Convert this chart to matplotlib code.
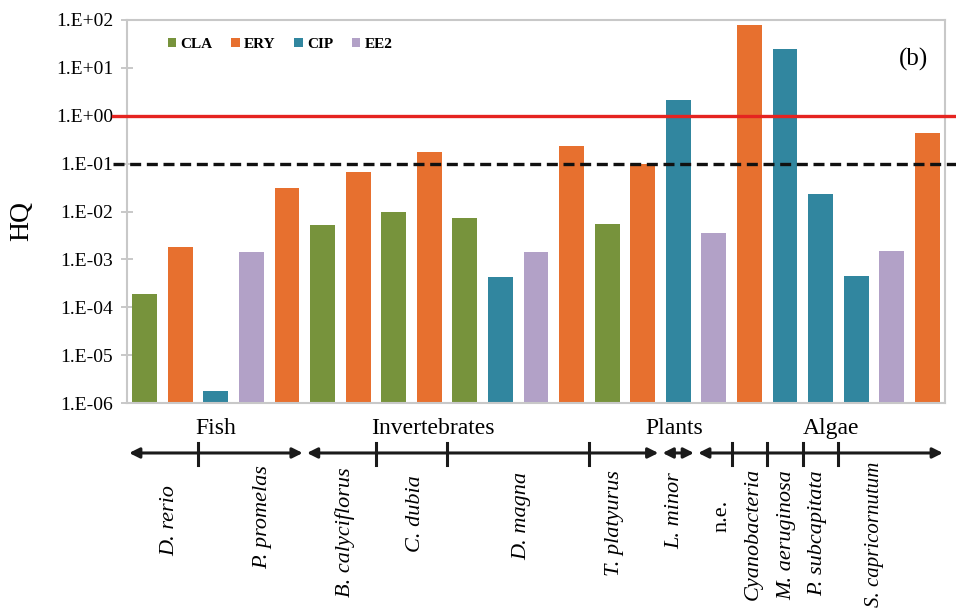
import numpy as np
import matplotlib
matplotlib.use('Agg')
import matplotlib.pyplot as plt
from matplotlib.patches import Patch
from matplotlib.ticker import FixedLocator, FuncFormatter, NullLocator
from matplotlib.transforms import blended_transform_factory

plt.rcParams['font.family'] = ['Liberation Serif', 'DejaVu Serif']

# HQ values, one bar per (species, compound)
bar_drug = ['CLA', 'ERY', 'CIP', 'EE2', 'ERY',
            'CLA', 'ERY', 'CLA', 'ERY', 'CLA', 'CIP', 'EE2', 'ERY',
            'CLA', 'ERY', 'CIP', 'EE2', 'ERY', 'CIP', 'CIP', 'CIP', 'EE2', 'ERY']
hq = [1.9e-4, 1.8e-3, 1.8e-6, 1.4e-3, 3.1e-2,
      5.2e-3, 6.6e-2, 1.0e-2, 1.75e-1, 7.3e-3, 4.3e-4, 1.4e-3, 2.3e-1,
      5.5e-3, 1.0e-1, 2.1e0, 3.5e-3, 78.0, 24.5, 2.3e-2, 4.6e-4, 1.5e-3, 4.3e-1]

legend_order = ['CLA', 'ERY', 'CIP', 'EE2']
drug_colors = {'CLA': '#77933C', 'ERY': '#E7702F', 'CIP': '#31869F', 'EE2': '#B2A1C7'}

species = ['D. rerio', 'P. promelas', 'B. calyciflorus', 'C. dubia', 'D. magna', 'T. platyurus',
           'L. minor', 'n.e.', 'Cyanobacteria', 'M. aeruginosa', 'P. subcapitata', 'S. capricornutum']
species_bars = [2, 3, 2, 2, 4, 2, 1, 1, 1, 1, 1, 3]
species_italic = [True] * 7 + [False] + [True] * 4

groups = ['Fish', 'Invertebrates', 'Plants', 'Algae']
group_species = [2, 4, 1, 5]

# layout (label placement as in the original figure)
species_label_x = [0.71, 3.32, 5.63, 7.6, 10.6, 13.2, 14.9, 16.23, 17.1, 18.06, 18.93, 20.53]
species_label_top = [485, 465, 467, 475, 472, 470, 472, 500, 468, 470, 470, 462]
species_label_size = [16] * 11 + [15]
group_label_x = [2.0, 8.1, 14.9, 19.3]

W, H = 956, 611
fig = plt.figure(figsize=(W / 100, H / 100), dpi=100)
ax = fig.add_axes([127 / W, 1 - 403 / H, 818 / W, 383 / H])

x = np.arange(len(hq))
ax.bar(x, hq, width=0.7, color=[drug_colors[d] for d in bar_drug], log=True, zorder=2)
ax.set_yscale('log')
ax.set_ylim(1e-6, 1e2)
ax.set_xlim(-0.5, len(hq) - 0.5)

ax.yaxis.set_major_locator(FixedLocator([10.0 ** k for k in range(-6, 3)]))
ax.yaxis.set_minor_locator(NullLocator())
ax.yaxis.set_major_formatter(FuncFormatter(lambda v, p: '1.E%+03d' % int(round(np.log10(v)))))
ax.tick_params(axis='y', direction='inout', length=8, width=1.2, color='#BFBFBF',
               labelsize=14, pad=6)
ax.set_xticks([])
for s in ax.spines.values():
    s.set_color('#C8C8C8')
    s.set_linewidth(1.5)

# thresholds
ytr = ax.get_yaxis_transform()
ax.plot([-0.017, 1.014], [1, 1], transform=ytr, clip_on=False, color='#E52420', lw=2.4, zorder=4)
ax.plot([-0.017, 1.014], [0.1, 0.1], transform=ytr, clip_on=False, color='#111111', lw=2.4,
        dashes=(3.3, 1.7), zorder=4)

handles = [Patch(facecolor=drug_colors[d], label=d) for d in legend_order]
ax.legend(handles=handles, loc='center left', bbox_to_anchor=(0.033, 0.937), ncol=4,
          frameon=False, handlelength=0.55, handleheight=0.55, handletextpad=0.3,
          columnspacing=1.2, prop={'size': 11, 'weight': 'bold'})

ax.text(0.961, 0.896, '(b)', transform=ax.transAxes, ha='center', va='center', fontsize=18)
fig.text(22 / W, 1 - 221 / H, 'HQ', rotation=90, ha='center', va='center', fontsize=20)

# taxonomic groups with arrows
bt = blended_transform_factory(ax.transData, ax.transAxes)
bf = blended_transform_factory(ax.transData, fig.transFigure)
y_arrow = -0.1305
bounds = np.concatenate([[0], np.cumsum(species_bars)]) - 0.5
sp = 0
for g, n, gx in zip(groups, group_species, group_label_x):
    x0 = bounds[sp] + 0.06
    x1 = bounds[sp + n] - 0.06
    ax.annotate('', xy=(x1, y_arrow), xytext=(x0, y_arrow), xycoords=bt, textcoords=bt,
                annotation_clip=False,
                arrowprops=dict(arrowstyle='<|-|>', color='#1a1a1a', lw=2.2,
                                mutation_scale=15, shrinkA=0, shrinkB=0))
    for k in range(sp + 1, sp + n):
        ax.plot([bounds[k], bounds[k]], [-0.104, -0.162], transform=bt, clip_on=False,
                color='#1a1a1a', lw=2.2)
    ax.text(gx, -0.066, g, transform=bt, ha='center', va='center', fontsize=17)
    sp += n

for name, lx, top, fs, it in zip(species, species_label_x, species_label_top,
                                 species_label_size, species_italic):
    ax.text(lx, 1 - top / H, name, transform=bf, rotation=90, ha='center', va='top',
            fontsize=fs, style='italic' if it else 'normal')

fig.savefig('out.png', dpi=100)
